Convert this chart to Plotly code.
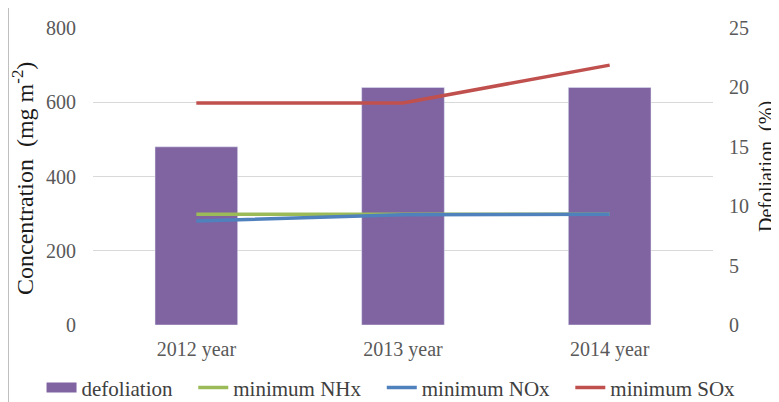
import plotly.graph_objects as go

categories = ["2012 year", "2013 year", "2014 year"]
defoliation = [15, 20, 20]
min_nhx = [298, 299, 298]
min_nox = [280, 297, 298]
min_sox = [598, 598, 700]

left_ticks = [0, 200, 400, 600, 800]
right_ticks = [0, 5, 10, 15, 20, 25]

FONT = "Liberation Serif, Times New Roman, serif"
TICKC = "#595959"
TITLEC = "#1a1a1a"
PAD = "\u00a0\u00a0\u00a0"

fig = go.Figure()
# bars on base axis (right side), lines on overlay axis (left side) so lines draw on top
fig.add_trace(go.Bar(x=categories, y=defoliation, marker_color="#8064A2",
                     name="defoliation", showlegend=False, yaxis="y"))
fig.add_trace(go.Scatter(x=[None], y=[None], mode="lines", name="defoliation" + PAD,
                         line=dict(color="#8064A2", width=11), yaxis="y2"))
fig.add_trace(go.Scatter(x=categories, y=min_nhx, mode="lines", name="minimum NHx" + PAD,
                         line=dict(color="#9BBB59", width=3.5), yaxis="y2"))
fig.add_trace(go.Scatter(x=categories, y=min_nox, mode="lines", name="minimum NOx" + PAD,
                         line=dict(color="#4F81BD", width=3.5), yaxis="y2"))
fig.add_trace(go.Scatter(x=categories, y=min_sox, mode="lines", name="minimum SOx",
                         line=dict(color="#C0504D", width=3.5), yaxis="y2"))

# page body has an 8px margin, so the figure is sized/shifted to compensate
fig.update_layout(
    width=771, height=394,
    margin=dict(l=85, r=66, t=20, b=77, autoexpand=False),
    paper_bgcolor="white", plot_bgcolor="white",
    font=dict(family=FONT, size=20, color="#404040"),
    bargap=0.6,
    showlegend=True,
    legend=dict(orientation="h", x=-0.083, xanchor="left", y=-0.212, yanchor="middle",
                font=dict(family=FONT, size=21, color="#404040"),
                itemwidth=30, tracegroupgap=0, bgcolor="rgba(0,0,0,0)"),
    xaxis=dict(showgrid=False, showline=False, ticks="", ticklabelstandoff=10,
               tickfont=dict(family=FONT, size=20, color=TICKC)),
    yaxis=dict(side="right", range=[0, 25], tickvals=right_ticks, showgrid=False,
               zeroline=False, showline=False, ticks="", ticklabelstandoff=15,
               tickfont=dict(family=FONT, size=20, color=TICKC)),
    yaxis2=dict(overlaying="y", side="left", range=[0, 800], tickvals=left_ticks,
                showgrid=True, gridcolor="#D9D9D9", gridwidth=1, zeroline=False,
                showline=False, ticks="", ticklabelstandoff=16,
                tickfont=dict(family=FONT, size=20, color=TICKC)),
    annotations=[
        dict(text="Concentration  (mg m<sup>-2</sup>)", textangle=-90, showarrow=False,
             xref="paper", yref="paper", x=(23 - 93) / 620, y=(325 - 179) / 297,
             xanchor="center", yanchor="middle",
             font=dict(family=FONT, size=24, color=TITLEC)),
        dict(text="Defoliation  (%)", textangle=-90, showarrow=False,
             xref="paper", yref="paper", x=(766 - 93) / 620, y=(325 - 167) / 297,
             xanchor="center", yanchor="middle",
             font=dict(family=FONT, size=20, color=TITLEC)),
    ],
)

fig.add_shape(type="line", xref="paper", yref="paper",
              x0=-84.5 / 620, x1=-84.5 / 620, y0=-77 / 297, y1=1 + 20 / 297,
              line=dict(color="#BFBFBF", width=1))

fig.write_html("out.html")
